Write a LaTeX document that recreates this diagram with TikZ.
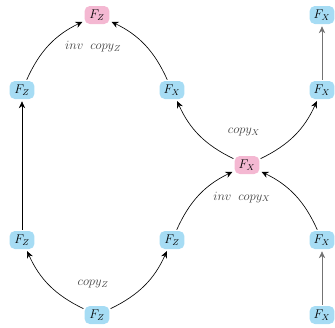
\documentclass[tikz,border=0pt]{standalone}
\usepackage{amsmath}
\usepackage{tikz}
\usetikzlibrary{arrows.meta}

\definecolor{blueF}{RGB}{166,220,244}
\definecolor{pinkF}{RGB}{244,184,210}

\begin{document}
\begin{tikzpicture}[
  >={Stealth[length=2.3mm,width=2.1mm]},
  fbox/.style={rounded corners=5pt,fill=blueF,minimum width=0.83cm,minimum height=0.6cm,inner sep=1pt,font=\large},
  fpink/.style={fbox,fill=pinkF},
  lbl/.style={text=black!75,font=\large},
  arr/.style={->,line width=0.6pt,shorten >=2pt,shorten <=1pt},
  garr/.style={arr,draw=black!55}
]
\useasboundingbox (-0.733,-0.4) rectangle (10.433,10.5);

% nodi
\node[fbox] (zb) at (2.5,0) {$F_Z$};
\node[fbox] (xb) at (10,0) {$F_X$};
\node[fbox] (zl) at (0,2.5) {$F_Z$};
\node[fbox] (zm) at (5,2.5) {$F_Z$};
\node[fbox] (xr) at (10,2.5) {$F_X$};
\node[fpink] (xc) at (7.5,5) {$F_X$};
\node[fbox] (zt) at (0,7.5) {$F_Z$};
\node[fbox] (xm) at (5,7.5) {$F_X$};
\node[fbox] (xu) at (10,7.5) {$F_X$};
\node[fpink] (zc) at (2.5,10) {$F_Z$};
\node[fbox] (xt) at (10,10) {$F_X$};

% etichette
\node[lbl] (lcz) at (2.37,1.03) {$copy_Z$};
\node[lbl] (liz) at (2.37,8.96) {$inv\;\;copy_Z$};
\node[lbl] (lix) at (7.33,3.93) {$inv\;\;copy_X$};
\node[lbl] (lcx) at (7.4,6.1) {$copy_X$};

% frecce
\draw[arr] (zb) to[bend left=20] (zl);
\draw[arr] (zb) to[bend right=20] (zm);
\draw[arr] (zl) -- (zt);
\draw[arr] (zt) to[bend left=20] (zc);
\draw[arr] (xm) to[bend right=20] (zc);
\draw[arr] (zm) to[bend left=20] (xc);
\draw[arr] (xr) to[bend right=20] (xc);
\draw[arr] (xc) to[bend left=20] (xm);
\draw[arr] (xc) to[bend right=20] (xu);
\draw[garr] (xb) -- (xr);
\draw[garr] (xu) -- (xt);

\end{tikzpicture}
\end{document}
